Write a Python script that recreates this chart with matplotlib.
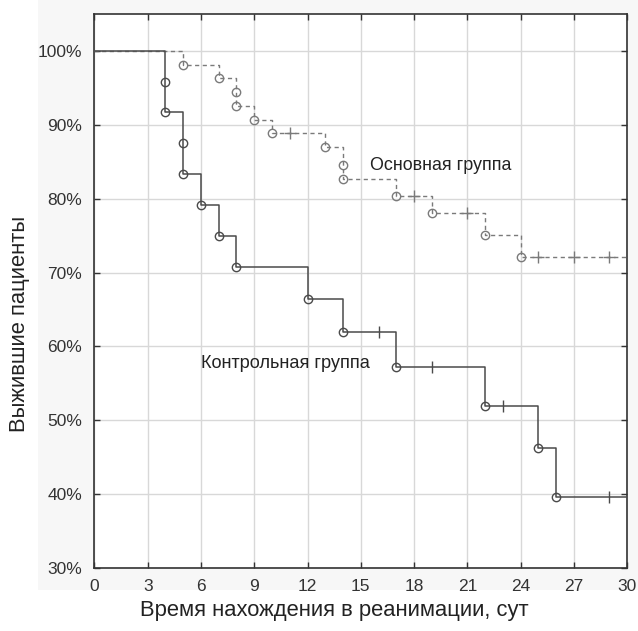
import matplotlib
matplotlib.use("Agg")
import matplotlib.pyplot as plt
from matplotlib.patches import Rectangle
from matplotlib.ticker import FuncFormatter

# Kaplan-Meier, контрольная группа
ctrl_t = [0, 4, 5, 6, 7, 8, 12, 14, 17, 22, 25, 26, 30]
ctrl_s = [100, 91.7, 83.3, 79.2, 75.0, 70.8, 66.4, 62.0, 57.2, 52.0, 46.2, 39.6, 39.6]
ctrl_ev_t = [4, 4, 5, 5, 6, 7, 8, 12, 14, 17, 22, 25, 26]
ctrl_ev_s = [95.8, 91.7, 87.5, 83.3, 79.2, 75.0, 70.8, 66.4, 62.0, 57.2, 52.0, 46.2, 39.6]
ctrl_cens_t = [16, 19, 23, 29]
ctrl_cens_s = [62.0, 57.2, 52.0, 39.6]

# основная группа
main_t = [0, 5, 7, 8, 9, 10, 13, 14, 17, 19, 22, 24, 30]
main_s = [100, 98.1, 96.3, 92.6, 90.7, 88.9, 87.0, 82.6, 80.3, 78.0, 75.1, 72.1, 72.1]
main_ev_t = [5, 7, 8, 8, 9, 10, 13, 14, 14, 17, 19, 22, 24]
main_ev_s = [98.1, 96.3, 94.4, 92.6, 90.7, 88.9, 87.0, 84.6, 82.6, 80.3, 78.0, 75.1, 72.1]
main_cens_t = [11, 18, 21, 25, 27, 29]
main_cens_s = [88.9, 80.3, 78.0, 72.1, 72.1, 72.1]

xticks = list(range(0, 31, 3))
yticks = [30, 40, 50, 60, 70, 80, 90, 100]

plt.rcParams['font.family'] = ['Liberation Sans', 'DejaVu Sans']

fig = plt.figure(figsize=(6.38, 6.31), dpi=100)
fig.patches.append(Rectangle((0.06, 0.065), 0.94, 0.935, transform=fig.transFigure,
                             facecolor='#f7f7f7', edgecolor='none', zorder=-10))
ax = fig.add_axes([0.148, 0.0998, 0.835, 0.878])

main_col = '#7a7a7a'
ctrl_col = '#4a4a4a'

ax.step(main_t, main_s, where='post', color=main_col, lw=1.0, ls=(0, (3, 2.5)), zorder=3)
ax.plot(main_ev_t, main_ev_s, 'o', ms=6, mfc='none', mec=main_col, mew=1.0, zorder=4)
ax.plot(main_cens_t, main_cens_s, '+', ms=9, mec=main_col, mew=1.0, zorder=4)

ax.step(ctrl_t, ctrl_s, where='post', color=ctrl_col, lw=1.1, zorder=5)
ax.plot(ctrl_ev_t, ctrl_ev_s, 'o', ms=6, mfc='none', mec=ctrl_col, mew=1.0, zorder=6)
ax.plot(ctrl_cens_t, ctrl_cens_s, '|', ms=9, mec=ctrl_col, mew=1.0, zorder=6)

ax.text(15.5, 84.5, 'Основная группа', fontsize=12.9, color='#222222', va='center')
ax.text(6.0, 57.7, 'Контрольная группа', fontsize=13.1, color='#222222', va='center')

ax.set_xlim(0, 30)
ax.set_ylim(30, 105)
ax.set_xticks(xticks)
ax.set_yticks(yticks)
ax.yaxis.set_major_formatter(FuncFormatter(lambda v, p: f'{v:.0f}%'))
ax.grid(True, color='#d8d8d8', lw=1.0)
ax.set_axisbelow(True)
ax.set_facecolor('white')
ax.tick_params(direction='in', length=4, width=1, color='#333333',
               top=True, right=True, labelsize=12.5, labelcolor='#333333')
ax.tick_params(axis='x', pad=8)
ax.tick_params(axis='y', pad=9)
for sp in ax.spines.values():
    sp.set_color('#333333')
    sp.set_linewidth(1.2)

ax.set_xlabel('Время нахождения в реанимации, сут', fontsize=15.8, color='#222222', va='center')
ax.set_ylabel('Выжившие пациенты', fontsize=15.8, color='#222222', va='center')
ax.xaxis.set_label_coords(0.45, -0.077)
ax.yaxis.set_label_coords(-0.14, 0.44)

fig.savefig('out.png', dpi=100)
